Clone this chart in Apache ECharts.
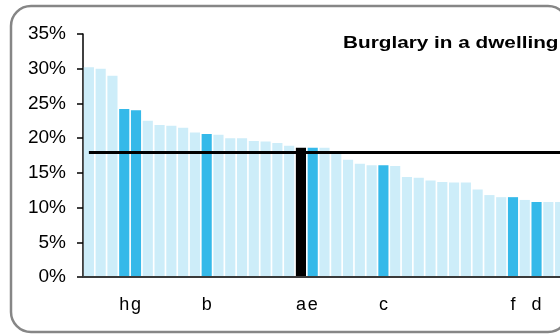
<!DOCTYPE html>
<html>
<head>
<meta charset="utf-8">
<script src="https://cdn.jsdelivr.net/npm/echarts@6/dist/echarts.min.js"></script>
<style>
html,body{margin:0;padding:0;background:#fff;overflow:hidden;width:560px;height:335px;}
#chart{width:572px;height:335px;}
</style>
</head>
<body>
<div id="chart"></div>
<script>
// ---- data ----
const categories = ['', '', '', 'h', 'g', '', '', '', '', '', 'b', '', '', '', '', '', '', '', 'a', 'e', '', '', '', '', '', 'c', '', '', '', '', '', '', '', '', '', '', 'f', '', 'd', '', ''];
const values = [30.2, 30.0, 29.0, 24.2, 24.0, 22.5, 21.9, 21.8, 21.5, 20.8, 20.6, 20.5, 20.0, 20.0, 19.6, 19.5, 19.3, 18.9, 18.6, 18.6, 18.6, 18.0, 16.9, 16.3, 16.1, 16.1, 16.0, 14.4, 14.3, 13.9, 13.7, 13.6, 13.6, 12.6, 11.8, 11.5, 11.5, 11.1, 10.8, 10.8, 10.8];
const highlighted = ['h', 'g', 'b', 'e', 'c', 'f', 'd'];
const selected = ['a'];
const averageValue = 17.9;
const yTicks = [0, 5, 10, 15, 20, 25, 30, 35];
const titleText = 'Burglary in a dwelling';

// ---- styles ----
const LIGHT = '#cdedf9';
const DARK = '#35b9e9';
const BLACK = '#000000';
const FONT = '"Liberation Sans", Arial, sans-serif';

const barData = values.map((v, i) => {
  const c = categories[i];
  let color = LIGHT;
  if (selected.includes(c)) color = BLACK;
  else if (highlighted.includes(c)) color = DARK;
  return { value: v, itemStyle: { color } };
});

const chart = echarts.init(document.getElementById('chart'), null, { renderer: 'canvas' });
chart.setOption({
  animation: false,
  backgroundColor: '#ffffff',
  grid: { left: 83, right: 6, top: 34, bottom: 58, containLabel: false },
  xAxis: {
    type: 'category',
    data: categories,
    z: 5,
    axisLine: { show: true, lineStyle: { color: '#3a3a3a', width: 2 } },
    axisTick: { show: false },
    axisLabel: { interval: 0, color: '#000', fontSize: 18, fontFamily: FONT, margin: 19 },
    splitLine: { show: false }
  },
  yAxis: {
    type: 'value',
    min: yTicks[0],
    max: yTicks[yTicks.length - 1],
    interval: yTicks[1] - yTicks[0],
    axisLine: { show: true, lineStyle: { color: '#000', width: 1.5 } },
    axisTick: { show: true, length: 6, lineStyle: { color: '#000', width: 1.5 } },
    axisLabel: { color: '#000', fontSize: 19, fontFamily: FONT, margin: 17, formatter: '{value}%' },
    splitLine: { show: false }
  },
  series: [{
    type: 'bar',
    data: barData,
    barCategoryGap: '14%',
    markLine: {
      silent: true,
      symbol: ['none', 'none'],
      label: { show: false },
      lineStyle: { color: '#000', width: 3, type: 'solid' },
      data: [[
        { coord: [0, averageValue] },
        { coord: [categories.length - 1, averageValue] }
      ]]
    }
  }],
  graphic: [
    {
      type: 'rect',
      silent: true,
      z: 100,
      shape: { x: 11, y: 6, width: 557, height: 326, r: 20 },
      style: { fill: 'none', stroke: '#868686', lineWidth: 2.5 }
    },
    {
      type: 'text',
      x: 343,
      y: 43,
      scaleX: 1.22,
      z: 100,
      style: {
        text: titleText,
        font: 'bold 17px ' + FONT,
        fill: '#000',
        verticalAlign: 'middle',
        align: 'left'
      }
    }
  ]
});
</script>
</body>
</html>
